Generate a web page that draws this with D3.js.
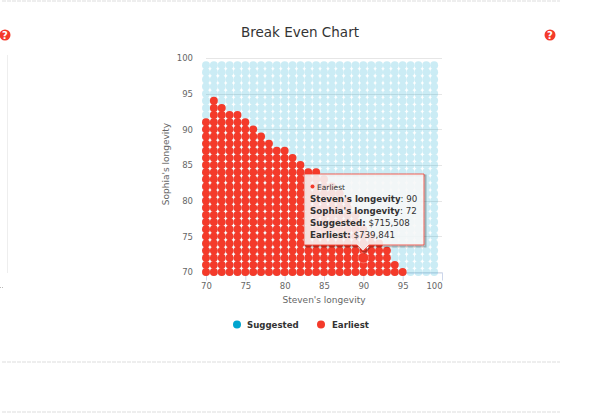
<!DOCTYPE html>
<html>
<head>
<meta charset="utf-8">
<script src="https://cdnjs.cloudflare.com/ajax/libs/d3/7.8.5/d3.min.js"></script>
<style>
  html, body { margin: 0; padding: 0; background: #fff; }
  svg { display: block; font-family: "DejaVu Sans", sans-serif; }
</style>
</head>
<body>
<div id="graph"></div>
<script>
const stevenAges = [70,71,72,73,74,75,76,77,78,79,80,81,82,83,84,85,86,87,88,89,90,91,92,93,94,95,96,97,98,99]
const sophiaAges = [70,71,72,73,74,75,76,77,78,79,80,81,82,83,84,85,86,87,88,89,90,91,92,93,94,95,96,97,98,99]
// highest Sophia age where Earliest wins, one per Steven age (70..95)
const earliestTop = [91,94,93,92,92,91,90,89,88,87,87,86,85,84,84,83,82,81,80,78,76,75,74,73,71,70]
const xTicks = [70,75,80,85,90,95,100]
const yTicks = [70,75,80,85,90,95,100]
const tooltipLines = [
  ["Steven's longevity", ": 90"],
  ["Sophia's longevity", ": 72"],
  ["Suggested:", " $715,508"],
  ["Earliest:", " $739,841"]
]
const hovered = {steven: 90, sophia: 72}

const blue = '#00a5cf'
const red = '#f43a2a'
const textCol = '#666'

const svg = d3.select('#graph').append('svg')
  .attr('width', 601)
  .attr('height', 416)

const x = d3.scaleLinear().domain([70, 100]).range([206, 442])
const y = d3.scaleLinear().domain([70, 100]).range([272, 58])

// page leftovers around the chart
;[1, 362, 412].forEach(py => {
  svg.append('line')
    .attr('x1', 2).attr('x2', 560).attr('y1', py).attr('y2', py)
    .attr('stroke', '#ddd').attr('stroke-dasharray', '4 1')
})
svg.append('line')
  .attr('x1', 7.5).attr('x2', 7.5).attr('y1', 55).attr('y2', 273)
  .attr('stroke', '#eee')
svg.append('line')
  .attr('x1', 0).attr('x2', 4).attr('y1', 287.5).attr('y2', 287.5)
  .attr('stroke', '#bbb').attr('stroke-dasharray', '1 1')

const helpIcon = (cx, cy) => {
  svg.append('circle').attr('cx', cx).attr('cy', cy).attr('r', 5.5).attr('fill', red)
  svg.append('text')
    .attr('x', cx).attr('y', cy + 3.5)
    .attr('text-anchor', 'middle')
    .attr('font-size', 10).attr('font-weight', 'bold').attr('fill', '#fff')
    .text('?')
}
helpIcon(5, 35)
helpIcon(550, 35)

// title
svg.append('text')
  .attr('x', 300).attr('y', 37)
  .attr('text-anchor', 'middle')
  .attr('font-size', 13.5).attr('fill', '#333')
  .text('Break Even Chart')

// y axis + grid
const yAxis = svg.append('g')
  .attr('transform', 'translate(206,0)')
  .call(d3.axisLeft(y).tickValues(yTicks).tickSize(0).tickPadding(13))
yAxis.select('.domain').remove()
yAxis.selectAll('text').attr('font-size', 8.5).attr('fill', textCol).attr('font-family', '"DejaVu Sans"')
yTicks.forEach(t => {
  svg.append('line')
    .attr('x1', 206).attr('x2', 442)
    .attr('y1', Math.round(y(t)) + 0.5).attr('y2', Math.round(y(t)) + 0.5)
    .attr('stroke', '#e6e6e6')
})

// x axis
const xAxis = svg.append('g')
  .attr('transform', 'translate(0,272.5)')
  .call(d3.axisBottom(x).tickValues(xTicks).tickSize(8).tickPadding(2).tickSizeOuter(0))
xAxis.select('.domain').attr('stroke', '#ccd6eb')
xAxis.selectAll('line').attr('stroke', '#ccd6eb')
xAxis.selectAll('text').attr('font-size', 8.5).attr('fill', textCol).attr('font-family', '"DejaVu Sans"')
// last label is pulled inside the plot edge
xAxis.selectAll('text').filter(d => d === 100).attr('dx', -8)

// axis titles
svg.append('text')
  .attr('x', 324).attr('y', 303)
  .attr('text-anchor', 'middle')
  .attr('font-size', 9).attr('fill', textCol)
  .text("Steven's longevity")
svg.append('text')
  .attr('transform', 'translate(169,164) rotate(-90)')
  .attr('text-anchor', 'middle')
  .attr('font-size', 9).attr('fill', textCol)
  .text("Sophia's longevity")

// suggested cells, whole grid, flat translucent layer
const cells = []
stevenAges.forEach(s => sophiaAges.forEach(p => cells.push({s, p})))
svg.append('g')
  .attr('opacity', 0.2)
  .selectAll('circle')
  .data(cells)
  .join('circle')
  .attr('cx', d => x(d.s))
  .attr('cy', d => y(d.p))
  .attr('r', 3.95)
  .attr('fill', blue)

// earliest cells
const redCells = []
earliestTop.forEach((top, i) => {
  sophiaAges.filter(p => p <= top).forEach(p => redCells.push({s: stevenAges[i], p}))
})
svg.append('g')
  .selectAll('circle')
  .data(redCells)
  .join('circle')
  .attr('cx', d => x(d.s))
  .attr('cy', d => y(d.p))
  .attr('r', 3.95)
  .attr('fill', red)

// hovered point
svg.append('circle')
  .attr('cx', x(hovered.steven))
  .attr('cy', y(hovered.sophia))
  .attr('r', 5.2)
  .attr('fill', red)
  .attr('stroke', '#fff')
  .attr('stroke-opacity', 0.25)

// legend
const legendItems = [
  {name: 'Suggested', col: blue, mx: 237, tx: 247},
  {name: 'Earliest', col: red, mx: 321, tx: 332}
]
legendItems.forEach(d => {
  svg.append('circle').attr('cx', d.mx).attr('cy', 324.5).attr('r', 4).attr('fill', d.col)
  svg.append('text')
    .attr('x', d.tx).attr('y', 328)
    .attr('font-size', 8.6).attr('font-weight', 'bold').attr('fill', '#333')
    .text(d.name)
})

// tooltip
const tip = svg.append('g').attr('transform', 'translate(304,174)')
const tipPath = 'M0,0H120V71H65L59,77L53,71H0Z'
tip.append('path')
  .attr('d', tipPath)
  .attr('transform', 'translate(1.5,1.5)')
  .attr('fill', 'none').attr('stroke', '#000').attr('stroke-opacity', 0.25).attr('stroke-width', 2)
tip.append('path')
  .attr('d', tipPath)
  .attr('fill', '#f7f7f7').attr('fill-opacity', 0.88)
  .attr('stroke', red).attr('stroke-opacity', 0.8)
tip.append('circle').attr('cx', 8.5).attr('cy', 12.5).attr('r', 2).attr('fill', red)
tip.append('text')
  .attr('x', 13).attr('y', 15.5)
  .attr('font-size', 7.5).attr('fill', '#333')
  .text('Earliest')
tooltipLines.forEach((l, i) => {
  const t = tip.append('text')
    .attr('x', 6).attr('y', 27.5 + i * 12)
    .attr('font-size', 8.7).attr('fill', '#333')
  t.append('tspan').attr('font-weight', 'bold').text(l[0])
  t.append('tspan').text(l[1])
})
</script>
</body>
</html>
